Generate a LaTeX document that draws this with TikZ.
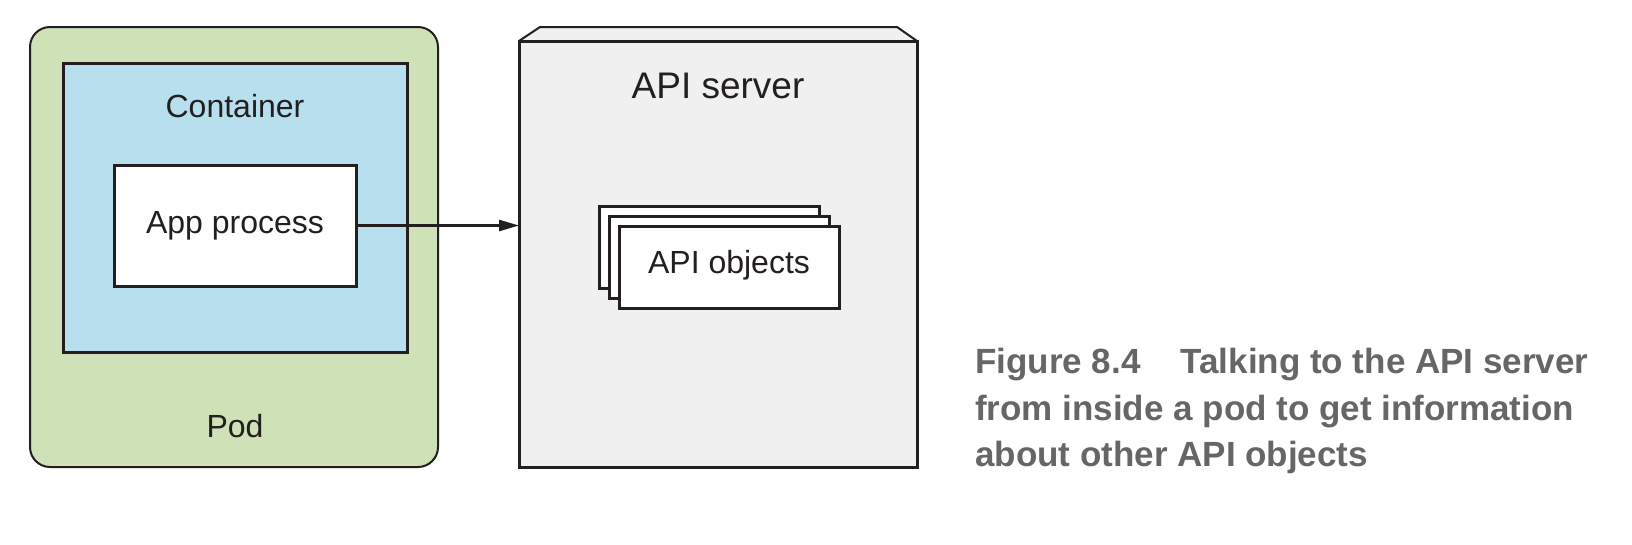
\documentclass[tikz,border=0pt]{standalone}
\usepackage{fontspec}
\setmainfont{Liberation Sans}
\usetikzlibrary{arrows.meta}
\definecolor{ink}{HTML}{231F20}
\definecolor{podgreen}{HTML}{CFE1B6}
\definecolor{ctblue}{HTML}{B8DFED}
\definecolor{srvgrey}{HTML}{F0F0F0}
\definecolor{capgrey}{HTML}{666666}
\tikzset{
  box/.style={draw=ink, line width=3pt, inner sep=0pt, outer sep=0pt, fill=white},
  lbl/.style={text=ink, inner sep=0pt, anchor=base, font=\fontsize{32}{38}\selectfont},
  captxt/.style={text=capgrey, inner sep=0pt, anchor=base west, font=\fontsize{35}{46}\selectfont\bfseries},
  conn/.style={draw=ink, line width=2.5pt, -{Triangle[length=20pt,width=11pt]}}
}
\begin{document}
\begin{tikzpicture}[x=1pt,y=-1pt]
\useasboundingbox (0,0) rectangle (1632,544);
% Pod
\node[box, fill=podgreen, line width=2pt, rounded corners=20pt, minimum width=408pt, minimum height=440pt] (pod) at (234,247) {};
\node[lbl] (podtxt) at (235,437) {Pod};
% Container
\node[box, fill=ctblue, minimum width=344pt, minimum height=289pt] (ct) at (235,207.5) {};
\node[lbl] (cttxt) at (235,117) {Container};
% App process
\node[box, minimum width=242pt, minimum height=121pt] (app) at (235,225.5) {};
\node[lbl] (apptxt) at (235,233) {App process};
% API server
\node[box, fill=srvgrey, minimum width=398pt, minimum height=426pt] (srv) at (718,254) {};
\path[fill=srvgrey, draw=ink, line width=2pt, line join=miter]
  (srv.north west) -- ([xshift=21pt,yshift=14pt]srv.north west)
  -- ([xshift=-20pt,yshift=14pt]srv.north east) -- (srv.north east);
\draw[ink, line width=3pt] (srv.north west) -- (srv.north east);
\node[lbl, font=\fontsize{37}{44}\selectfont] (srvtxt) at (718,98) {API server};
% API objects stack
\node[box, minimum width=220pt, minimum height=82pt] (obj1) at (709,247) {};
\node[box, minimum width=220pt, minimum height=82pt] (obj2) at (719,257) {};
\node[box, minimum width=220pt, minimum height=82pt] (obj3) at (729,267) {};
\node[lbl] (objtxt) at (729,273) {API objects};
% Arrow
\draw[conn] (app.east) -- (app.east -| srv.west);
% Caption
\node[captxt] (cap1) at (975,373) {Figure 8.4\hspace*{40pt}Talking to the API server};
\node[captxt] (cap2) at (975,420) {from inside a pod to get information};
\node[captxt] (cap3) at (975,466) {about other API objects};
\end{tikzpicture}
\end{document}
